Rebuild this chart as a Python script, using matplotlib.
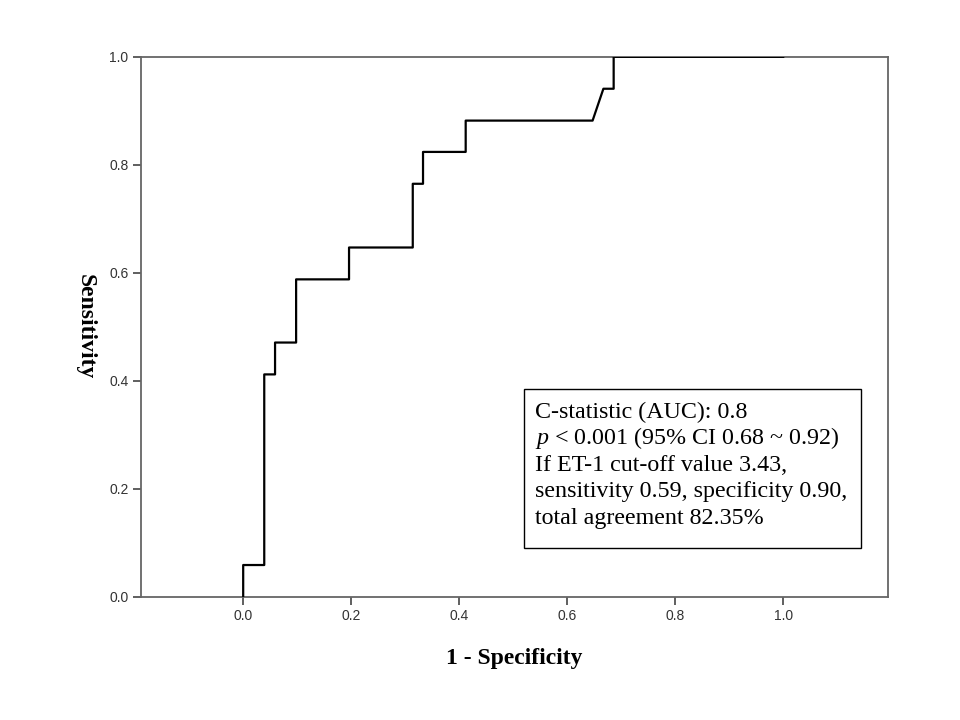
import numpy as np
import matplotlib
matplotlib.use("Agg")
import matplotlib.pyplot as plt
from matplotlib.patches import Rectangle

plt.rcParams['mathtext.fontset'] = 'custom'
plt.rcParams['mathtext.rm'] = 'Liberation Serif'
plt.rcParams['mathtext.it'] = 'Liberation Serif:italic'

# ROC 曲线的转折点 (1 - specificity, sensitivity)
fpr = [0.0, 0.0, 0.039, 0.039, 0.059, 0.059, 0.098, 0.098, 0.196, 0.196,
       0.314, 0.314, 0.333, 0.333, 0.412, 0.412, 0.647, 0.667, 0.686, 0.686, 1.0]
tpr = [0.0, 0.059, 0.059, 0.412, 0.412, 0.471, 0.471, 0.588, 0.588, 0.647,
       0.647, 0.765, 0.765, 0.824, 0.824, 0.882, 0.882, 0.941, 0.941, 1.0, 1.0]

xticks = [0.0, 0.2, 0.4, 0.6, 0.8, 1.0]
yticks = [0.0, 0.2, 0.4, 0.6, 0.8, 1.0]

info_lines = ["C-statistic (AUC): 0.8",
              r"$\it{p}$ < 0.001 (95% CI 0.68 ~ 0.92)",
              "If ET-1 cut-off value 3.43,",
              "sensitivity 0.59, specificity 0.90,",
              "total agreement 82.35%"]

fig = plt.figure(figsize=(9.6, 7.2), dpi=100)
ax = fig.add_axes([0.147, 0.171, 0.778, 0.75])

ax.plot(fpr, tpr, color='black', lw=1.6, zorder=3)

ax.set_xlim(-0.189, 1.194)
ax.set_ylim(0, 1)
ax.set_xticks(xticks)
ax.set_yticks(yticks)
ax.set_xticklabels([f"{t:.1f}" for t in xticks])
ax.set_yticklabels([f"{t:.1f}" for t in yticks])

for s in ax.spines.values():
    s.set_color('#666666')
    s.set_linewidth(1.3)
ax.tick_params(direction='out', length=6, width=1.2, color='#444444',
               labelsize=10, labelcolor='#333333', pad=3)
for lab in ax.get_xticklabels() + ax.get_yticklabels():
    lab.set_family('Liberation Sans')

ax.set_xlabel("1 - Specificity", family='Liberation Serif', fontsize=17,
              fontweight='bold', labelpad=18)
ax.set_ylabel("Sensitivity", family='Liberation Serif', fontsize=17,
              fontweight='bold', rotation=270, va='center', ha='center')
ax.yaxis.set_label_coords(-0.075, 0.5)

# 文本框
ax.add_patch(Rectangle((0.5127, 0.0907), 0.4512, 0.2945, transform=ax.transAxes,
                       fc='white', ec='black', lw=1, zorder=4))
y0 = (597 - 418) / 540
dy = 26.5 / 540
for i, line in enumerate(info_lines):
    ax.text(0.5274, y0 - i * dy, line, transform=ax.transAxes, ha='left',
            va='baseline', family='Liberation Serif', fontsize=17.3, zorder=5)

fig.savefig("out.png", dpi=100)
